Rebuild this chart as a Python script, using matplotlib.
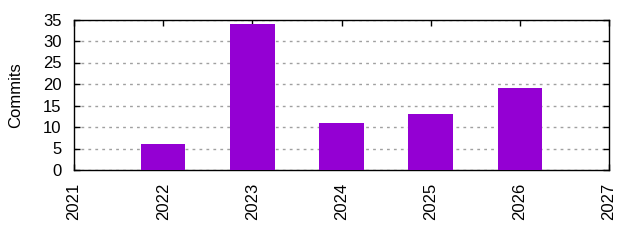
import numpy as np
from matplotlib import pyplot as plt

plt.rcParams['font.family'] = ['Liberation Sans', 'DejaVu Sans']

years = [2022, 2023, 2024, 2025, 2026]
commits = [6, 34, 11, 13, 19]
xticks = [2021, 2022, 2023, 2024, 2025, 2026, 2027]
yticks = [0, 5, 10, 15, 20, 25, 30, 35]

fig = plt.figure(figsize=(6.4, 2.4), dpi=100)
ax = fig.add_axes([74/640, 1 - 170/240, (609 - 74)/640, (170 - 19.5)/240])

ax.bar(years, commits, width=0.5, color='#9400D3', zorder=3)

ax.set_xlim(2021, 2027)
ax.set_ylim(0, 35)
ax.set_xticks(xticks)
ax.set_xticklabels([str(y) for y in xticks], rotation=90)
ax.set_yticks(yticks)

ax.yaxis.grid(True, color='#a0a0a0', linestyle=(0, (2, 3)), linewidth=1, zorder=0)
ax.tick_params(direction='in', top=True, right=True, labelsize=12, length=4, width=1, pad=9)
for s in ax.spines.values():
    s.set_linewidth(1)

ax.set_ylabel('Commits', fontsize=12, labelpad=14)

fig.savefig('out.png', dpi=100)
